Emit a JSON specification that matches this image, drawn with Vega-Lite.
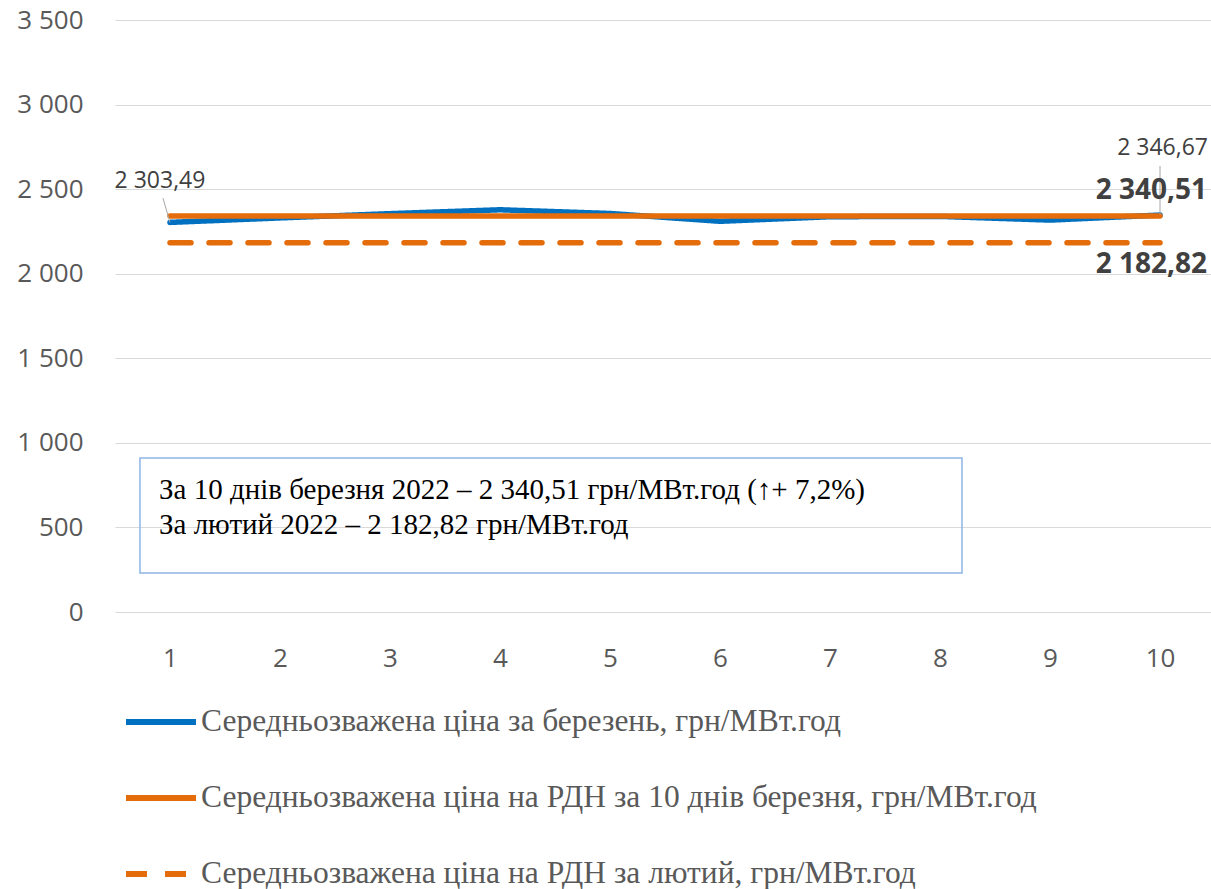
{
  "$schema": "https://vega.github.io/schema/vega-lite/v6.json",
  "autosize": "none",
  "width": 1096,
  "height": 592,
  "padding": {"left": 115, "top": 20, "right": 0, "bottom": 277},
  "background": "white",
  "config": {
    "view": {"stroke": null},
    "axis": {"labelFont": "Open Sans", "labelColor": "#595959", "labelFontSize": 26}
  },
  "datasets": {
    "prices": [
      {"series": "Середньозважена ціна за березень, грн/МВт.год", "day": 1, "price": 2303.49},
      {"series": "Середньозважена ціна за березень, грн/МВт.год", "day": 2, "price": 2330},
      {"series": "Середньозважена ціна за березень, грн/МВт.год", "day": 3, "price": 2355},
      {"series": "Середньозважена ціна за березень, грн/МВт.год", "day": 4, "price": 2378},
      {"series": "Середньозважена ціна за березень, грн/МВт.год", "day": 5, "price": 2356},
      {"series": "Середньозважена ціна за березень, грн/МВт.год", "day": 6, "price": 2310},
      {"series": "Середньозважена ціна за березень, грн/МВт.год", "day": 7, "price": 2337},
      {"series": "Середньозважена ціна за березень, грн/МВт.год", "day": 8, "price": 2339},
      {"series": "Середньозважена ціна за березень, грн/МВт.год", "day": 9, "price": 2317},
      {"series": "Середньозважена ціна за березень, грн/МВт.год", "day": 10, "price": 2346.67},
      {"series": "Середньозважена ціна на РДН за 10 днів березня, грн/МВт.год", "day": 1, "price": 2340.51},
      {"series": "Середньозважена ціна на РДН за 10 днів березня, грн/МВт.год", "day": 2, "price": 2340.51},
      {"series": "Середньозважена ціна на РДН за 10 днів березня, грн/МВт.год", "day": 3, "price": 2340.51},
      {"series": "Середньозважена ціна на РДН за 10 днів березня, грн/МВт.год", "day": 4, "price": 2340.51},
      {"series": "Середньозважена ціна на РДН за 10 днів березня, грн/МВт.год", "day": 5, "price": 2340.51},
      {"series": "Середньозважена ціна на РДН за 10 днів березня, грн/МВт.год", "day": 6, "price": 2340.51},
      {"series": "Середньозважена ціна на РДН за 10 днів березня, грн/МВт.год", "day": 7, "price": 2340.51},
      {"series": "Середньозважена ціна на РДН за 10 днів березня, грн/МВт.год", "day": 8, "price": 2340.51},
      {"series": "Середньозважена ціна на РДН за 10 днів березня, грн/МВт.год", "day": 9, "price": 2340.51},
      {"series": "Середньозважена ціна на РДН за 10 днів березня, грн/МВт.год", "day": 10, "price": 2340.51},
      {"series": "Середньозважена ціна на РДН за лютий, грн/МВт.год", "day": 1, "price": 2182.82},
      {"series": "Середньозважена ціна на РДН за лютий, грн/МВт.год", "day": 2, "price": 2182.82},
      {"series": "Середньозважена ціна на РДН за лютий, грн/МВт.год", "day": 3, "price": 2182.82},
      {"series": "Середньозважена ціна на РДН за лютий, грн/МВт.год", "day": 4, "price": 2182.82},
      {"series": "Середньозважена ціна на РДН за лютий, грн/МВт.год", "day": 5, "price": 2182.82},
      {"series": "Середньозважена ціна на РДН за лютий, грн/МВт.год", "day": 6, "price": 2182.82},
      {"series": "Середньозважена ціна на РДН за лютий, грн/МВт.год", "day": 7, "price": 2182.82},
      {"series": "Середньозважена ціна на РДН за лютий, грн/МВт.год", "day": 8, "price": 2182.82},
      {"series": "Середньозважена ціна на РДН за лютий, грн/МВт.год", "day": 9, "price": 2182.82},
      {"series": "Середньозважена ціна на РДН за лютий, грн/МВт.год", "day": 10, "price": 2182.82}
    ],
    "leaders": [
      {"x1": 0.936, "y1": 2447, "x2": 1, "y2": 2303.49},
      {"x1": 10, "y1": 2637, "x2": 10, "y2": 2350}
    ],
    "box": [{"x1": 0.727, "x2": 8.2, "y1": 230, "y2": 910}],
    "note": [
      {"x": 0.9, "y": 721, "text": "За 10 днів березня 2022 – 2 340,51 грн/МВт.год (↑+ 7,2%)"},
      {"x": 0.9, "y": 514, "text": "За лютий 2022 – 2 182,82 грн/МВт.год"}
    ]
  },
  "layer": [
    {
      "data": {"name": "prices"},
      "mark": {"type": "line", "strokeWidth": 5.5, "strokeCap": "round", "strokeJoin": "round"},
      "encoding": {
        "x": {
          "field": "day", "type": "quantitative",
          "scale": {"domain": [0.5, 10.4636], "nice": false, "zero": false},
          "axis": {"values": [1,2,3,4,5,6,7,8,9,10], "format": "d", "title": null, "grid": false, "domain": false, "ticks": false, "labelPadding": 33}
        },
        "y": {
          "field": "price", "type": "quantitative",
          "scale": {"domain": [0, 3500], "nice": false},
          "axis": {"values": [0,500,1000,1500,2000,2500,3000,3500], "title": null, "domain": false, "ticks": false, "labelPadding": 32, "gridColor": "#d9d9d9", "gridWidth": 1, "labelExpr": "replace(format(datum.value, ','), ',', ' ')"}
        },
        "color": {
          "field": "series", "type": "nominal",
          "scale": {"domain": ["Середньозважена ціна за березень, грн/МВт.год", "Середньозважена ціна на РДН за 10 днів березня, грн/МВт.год", "Середньозважена ціна на РДН за лютий, грн/МВт.год"], "range": ["#0070C0", "#E46C0A", "#E46C0A"]},
          "legend": {
            "title": null, "orient": "none", "legendX": 8, "legendY": 664, "direction": "vertical",
            "symbolType": "stroke", "symbolSize": 4900, "symbolStrokeWidth": 6,
            "labelFont": "Liberation Serif", "labelFontSize": 31.5, "labelColor": "#595959", "labelOffset": 2,
            "rowPadding": 22, "labelLimit": 1100
          }
        },
        "strokeDash": {
          "field": "series", "type": "nominal",
          "scale": {"domain": ["Середньозважена ціна за березень, грн/МВт.год", "Середньозважена ціна на РДН за 10 днів березня, грн/МВт.год", "Середньозважена ціна на РДН за лютий, грн/МВт.год"], "range": [[1, 0], [1, 0], [21, 18]]},
          "legend": {
            "title": null, "orient": "none", "legendX": 8, "legendY": 664, "direction": "vertical",
            "symbolType": "stroke", "symbolSize": 4900, "symbolStrokeWidth": 6,
            "labelFont": "Liberation Serif", "labelFontSize": 31.5, "labelColor": "#595959", "labelOffset": 2,
            "rowPadding": 22, "labelLimit": 1100
          }
        }
      }
    },
    {
      "data": {"name": "box"},
      "mark": {"type": "rect", "fill": null, "fillOpacity": 0, "stroke": "#8EB4E3", "strokeWidth": 1.5},
      "encoding": {
        "x": {"field": "x1", "type": "quantitative"},
        "x2": {"field": "x2"},
        "y": {"field": "y1", "type": "quantitative"},
        "y2": {"field": "y2"}
      }
    },
    {
      "data": {"name": "leaders"},
      "mark": {"type": "rule", "color": "#a6a6a6", "strokeWidth": 1},
      "encoding": {
        "x": {"field": "x1", "type": "quantitative"},
        "x2": {"field": "x2"},
        "y": {"field": "y1", "type": "quantitative"},
        "y2": {"field": "y2"}
      }
    },
    {
      "data": {"values": [{"day": 1, "price": 2303.49, "label": "2 303,49"}]},
      "mark": {"type": "text", "font": "Open Sans", "fontSize": 23, "color": "#404040", "align": "center", "baseline": "middle", "dx": -10, "dy": -41},
      "encoding": {
        "x": {"field": "day", "type": "quantitative"},
        "y": {"field": "price", "type": "quantitative"},
        "text": {"field": "label"}
      }
    },
    {
      "data": {"values": [{"day": 10, "price": 2346.67, "label": "2 346,67"}]},
      "mark": {"type": "text", "font": "Open Sans", "fontSize": 23, "color": "#404040", "align": "right", "baseline": "middle", "dx": 48, "dy": -67},
      "encoding": {
        "x": {"field": "day", "type": "quantitative"},
        "y": {"field": "price", "type": "quantitative"},
        "text": {"field": "label"}
      }
    },
    {
      "data": {"values": [{"day": 10, "price": 2340.51, "label": "2 340,51"}]},
      "mark": {"type": "text", "font": "Open Sans", "fontSize": 28, "fontWeight": "bold", "color": "#404040", "align": "right", "baseline": "middle", "dx": 47, "dy": -25},
      "encoding": {
        "x": {"field": "day", "type": "quantitative"},
        "y": {"field": "price", "type": "quantitative"},
        "text": {"field": "label"}
      }
    },
    {
      "data": {"values": [{"day": 10, "price": 2182.82, "label": "2 182,82"}]},
      "mark": {"type": "text", "font": "Open Sans", "fontSize": 28, "fontWeight": "bold", "color": "#404040", "align": "right", "baseline": "middle", "dx": 47, "dy": 22},
      "encoding": {
        "x": {"field": "day", "type": "quantitative"},
        "y": {"field": "price", "type": "quantitative"},
        "text": {"field": "label"}
      }
    },
    {
      "data": {"name": "note"},
      "mark": {"type": "text", "font": "Liberation Serif", "fontSize": 29, "color": "#000000", "align": "left", "baseline": "middle"},
      "encoding": {
        "x": {"field": "x", "type": "quantitative"},
        "y": {"field": "y", "type": "quantitative"},
        "text": {"field": "text"}
      }
    }
  ]
}
